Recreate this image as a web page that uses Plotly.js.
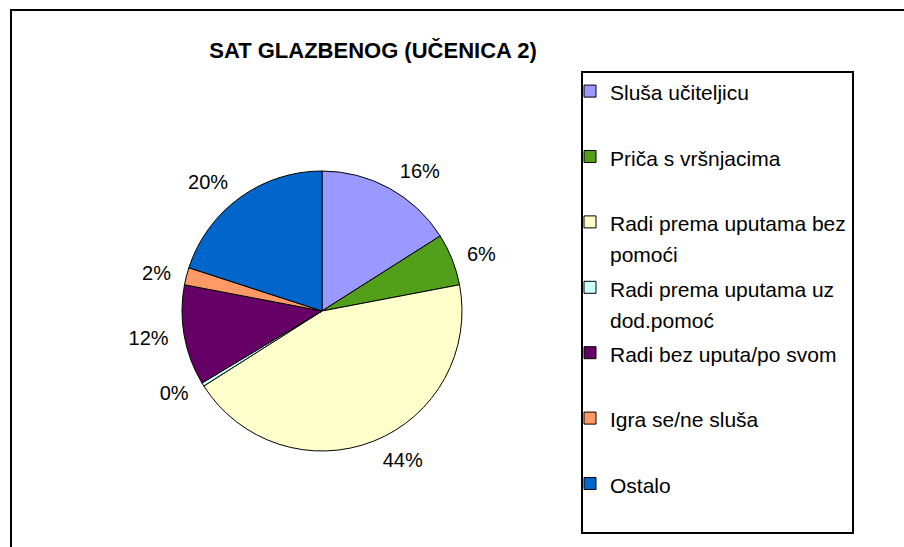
<!DOCTYPE html>
<html>
<head>
<meta charset="utf-8">
<script src="https://cdn.plot.ly/plotly-3.0.1.min.js"></script>
<style>html,body{margin:0;padding:0;background:#fff;}</style>
</head>
<body>
<div id="chart" style="width:904px;height:547px;"></div>
<script>
const chartTitle = 'SAT GLAZBENOG (UČENICA 2)';
const categories = [
  'Sluša učiteljicu',
  'Priča s vršnjacima',
  'Radi prema uputama bez<br>pomoći',
  'Radi prema uputama uz<br>dod.pomoć',
  'Radi bez uputa/po svom',
  'Igra se/ne sluša',
  'Ostalo'
];
const shares = [16, 6, 44, 0.4, 11.6, 2, 20];
const sliceColors = ['#9999FF', '#52A01A', '#FFFFCC', '#CCFFFF', '#660066', '#FF9966', '#0066CC'];

const W = 904, H = 547;
const px = x => x / W;
const py = y => 1 - y / H;
const FONT = 'Liberation Sans, Arial, sans-serif';

// legend labels: two lines each, drawn at 21px inside a 24px legend row
const legendLabels = categories.map(c => {
  const lines = c.split('<br>');
  if (lines.length < 2) lines.push(' ');
  return lines.map(l => '<span style="font-size:21px">' + l + '</span>').join('<br>');
});

const cx = 322, cy = 311, r = 140, rLabel = 150;

const pieTrace = {
  type: 'pie',
  labels: legendLabels,
  values: shares,
  sort: false,
  direction: 'clockwise',
  rotation: 0,
  marker: { colors: sliceColors, line: { color: '#000000', width: 1 } },
  textinfo: 'none',
  hoverinfo: 'skip',
  domain: { x: [px(cx - r), px(cx + r)], y: [py(cy + r), py(cy - r)] }
};

// transparent companion pie, slightly larger, that only carries the outside percentage labels
const labelTrace = {
  type: 'pie',
  labels: legendLabels,
  values: shares,
  sort: false,
  direction: 'clockwise',
  rotation: 0,
  showlegend: false,
  marker: { colors: shares.map(() => 'rgba(0,0,0,0)'), line: { width: 0 } },
  texttemplate: '%{percent:.0%}',
  textposition: 'outside',
  textfont: { family: FONT, size: 20, color: '#000000' },
  hoverinfo: 'skip',
  domain: { x: [px(cx - rLabel), px(cx + rLabel)], y: [py(cy + rLabel), py(cy - rLabel)] }
};

const layout = {
  width: W, height: H,
  margin: { l: 0, r: 0, t: 0, b: 0 },
  paper_bgcolor: '#ffffff',
  font: { family: FONT, color: '#000000' },
  title: {
    text: chartTitle,
    x: px(373), y: py(50), xanchor: 'center', yanchor: 'middle',
    xref: 'paper', yref: 'paper',
    font: { family: FONT, size: 22, weight: 'bold', color: '#000000' }
  },
  showlegend: true,
  legend: {
    x: px(570), y: py(69), xanchor: 'left', yanchor: 'top',
    valign: 'top',
    bgcolor: 'rgba(0,0,0,0)',
    borderwidth: 0,
    font: { family: FONT, size: 24, color: '#000000' },
    itemclick: false
  },
  shapes: [
    { type: 'rect', xref: 'paper', yref: 'paper', x0: px(11), x1: px(915), y0: py(10), y1: py(560),
      line: { color: '#000000', width: 2 }, fillcolor: 'rgba(0,0,0,0)', layer: 'below' },
    { type: 'rect', xref: 'paper', yref: 'paper', x0: px(582), x1: px(853), y0: py(72), y1: py(533),
      line: { color: '#000000', width: 2 }, fillcolor: 'rgba(0,0,0,0)', layer: 'below' }
  ]
};

Plotly.newPlot('chart', [pieTrace, labelTrace], layout, { displayModeBar: false, staticPlot: true });
</script>
</body>
</html>
